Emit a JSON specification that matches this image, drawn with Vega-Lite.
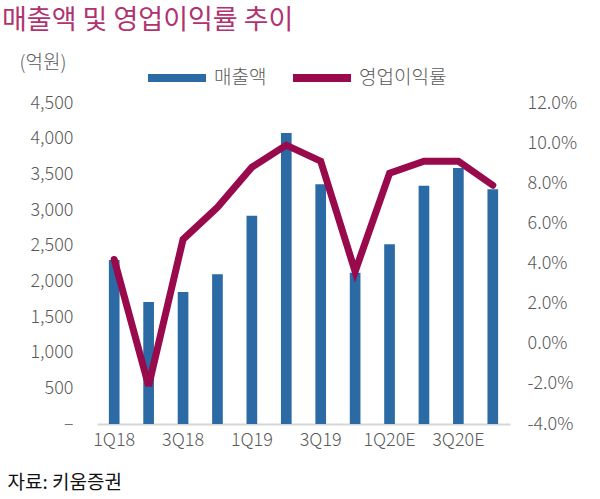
{
  "$schema": "https://vega.github.io/schema/vega-lite/v6.json",
  "autosize": {"type": "none"},
  "width": 413,
  "height": 321,
  "padding": {"left": 97, "top": 103, "right": 90, "bottom": 75},
  "background": "white",
  "config": {
    "view": {"stroke": null},
    "font": "Noto Sans CJK KR",
    "axis": {"labelFont": "Noto Sans CJK KR", "titleFont": "Noto Sans CJK KR"}
  },
  "title": {
    "text": "매출액 및 영업이익률 추이",
    "anchor": "start",
    "frame": "group",
    "dx": -95,
    "dy": 35,
    "offset": 22,
    "baseline": "bottom",
    "fontSize": 27,
    "fontWeight": "normal",
    "color": "#B0336F",
    "font": "Noto Sans CJK KR"
  },
  "data": {
    "values": [
      {"q": "1Q18", "sales": 2300, "opm": 4.2},
      {"q": "2Q18", "sales": 1710, "opm": -2.1},
      {"q": "3Q18", "sales": 1850, "opm": 5.2},
      {"q": "4Q18", "sales": 2100, "opm": 6.8},
      {"q": "1Q19", "sales": 2920, "opm": 8.8},
      {"q": "2Q19", "sales": 4080, "opm": 9.9},
      {"q": "3Q19", "sales": 3360, "opm": 9.1},
      {"q": "4Q19", "sales": 2120, "opm": 3.6},
      {"q": "1Q20E", "sales": 2520, "opm": 8.5},
      {"q": "2Q20E", "sales": 3340, "opm": 9.1},
      {"q": "3Q20E", "sales": 3590, "opm": 9.1},
      {"q": "4Q20E", "sales": 3290, "opm": 7.9}
    ]
  },
  "encoding": {
    "x": {
      "field": "q",
      "type": "ordinal",
      "sort": null,
      "scale": {"paddingInner": 0.69, "paddingOuter": 0.345},
      "axis": {
        "values": ["1Q18", "3Q18", "1Q19", "3Q19", "1Q20E", "3Q20E"],
        "labelAngle": 0,
        "ticks": false,
        "domainColor": "#D6D6D6",
        "domainWidth": 2,
        "labelFontSize": 18,
        "labelFontWeight": 300,
        "labelColor": "#595959",
        "labelPadding": 7,
        "title": "자료: 키움증권",
        "titleFontSize": 19,
        "titleFontWeight": "normal",
        "titleColor": "#111111",
        "titleAnchor": "start",
        "titleAlign": "left",
        "titleBaseline": "middle",
        "titleX": -90,
        "titleY": 58
      }
    }
  },
  "layer": [
    {
      "mark": {"type": "bar", "color": "#2B6AA5"},
      "encoding": {
        "y": {
          "field": "sales",
          "type": "quantitative",
          "scale": {"domain": [0, 4500], "nice": false},
          "axis": {
            "values": [0, 500, 1000, 1500, 2000, 2500, 3000, 3500, 4000, 4500],
            "labelExpr": "datum.value === 0 ? '–' : format(datum.value, ',')",
            "grid": false,
            "domain": false,
            "ticks": false,
            "labelPadding": 24,
            "labelFontSize": 18,
            "labelFontWeight": 300,
            "labelColor": "#595959",
            "title": "(억원)",
            "titleAngle": 0,
            "titleAlign": "left",
            "titleBaseline": "middle",
            "titleFontSize": 19,
            "titleFontWeight": 300,
            "titleColor": "#595959",
            "titleX": -78,
            "titleY": -41
          }
        },
        "fill": {
          "datum": "매출액",
          "type": "nominal",
          "scale": {"domain": ["매출액", "영업이익률"], "range": ["#2B6AA5", "#990A4C"]},
          "legend": {
            "orient": "none",
            "direction": "horizontal",
            "legendX": 51,
            "legendY": -54,
            "title": null,
            "symbolType": "M-1,-0.14H1V0.14H-1Z",
            "symbolSize": 3364,
            "symbolStrokeWidth": 0,
            "labelFontSize": 19,
            "labelFontWeight": 300,
            "labelColor": "#595959",
            "labelOffset": 8,
            "columnPadding": 26,
            "labelFont": "Noto Sans CJK KR"
          }
        }
      }
    },
    {
      "mark": {"type": "line", "color": "#990A4C", "strokeWidth": 7, "strokeCap": "round", "strokeJoin": "miter"},
      "encoding": {
        "y": {
          "field": "opm",
          "type": "quantitative",
          "scale": {"domain": [-4, 12], "nice": false},
          "axis": {
            "orient": "right",
            "values": [-4, -2, 0, 2, 4, 6, 8, 10, 12],
            "labelExpr": "replace(format(datum.value, '.1f'), '−', '-') + '%'",
            "grid": false,
            "domain": false,
            "ticks": false,
            "labelPadding": 17,
            "labelFontSize": 18,
            "labelFontWeight": 300,
            "labelColor": "#595959",
            "title": null
          }
        }
      }
    }
  ],
  "resolve": {"scale": {"y": "independent"}}
}
